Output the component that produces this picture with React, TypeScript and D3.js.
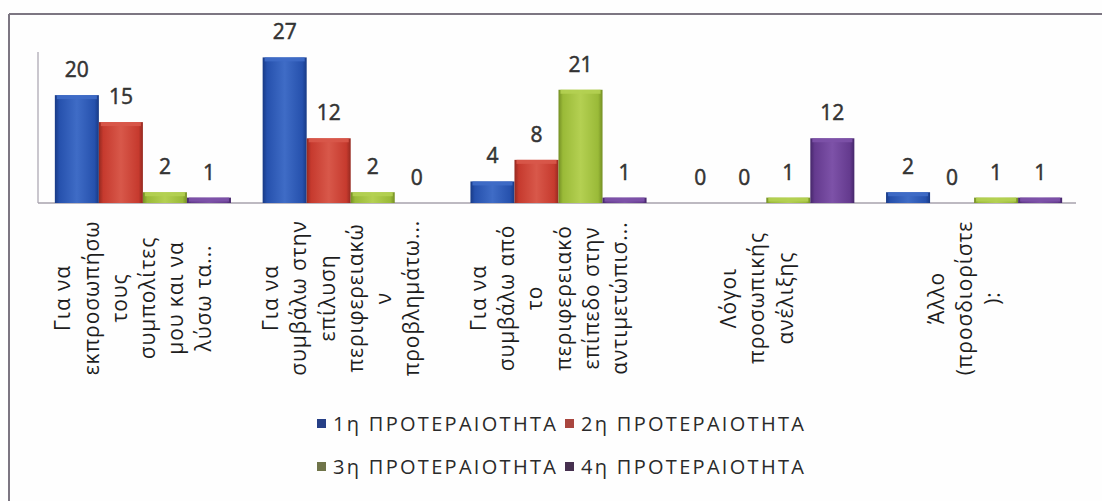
import React from 'react';
import * as d3 from 'd3';

const categories = [
  ['Για να', 'εκπροσωπήσω', 'τους', 'συμπολίτες', 'μου και να', 'λύσω τα...'],
  ['Για να', 'συμβάλω στην', 'επίλυση', 'περιφερειακώ', 'ν', 'προβλημάτω...'],
  ['Για να', 'συμβάλω από', 'το', 'περιφερειακό', 'επίπεδο στην', 'αντιμετώπισ...'],
  ['Λόγοι', 'προσωπικής', 'ανέλιξης'],
  ['Άλλο', '(προσδιορίστε', '):'],
];
const seriesNames = ['1η ΠΡΟΤΕΡΑΙΟΤΗΤΑ', '2η ΠΡΟΤΕΡΑΙΟΤΗΤΑ', '3η ΠΡΟΤΕΡΑΙΟΤΗΤΑ', '4η ΠΡΟΤΕΡΑΙΟΤΗΤΑ'];
const priority1 = [20, 27, 4, 0, 2];
const priority2 = [15, 12, 8, 0, 0];
const priority3 = [2, 2, 21, 1, 1];
const priority4 = [1, 0, 1, 12, 1];
const series = [priority1, priority2, priority3, priority4];

const barColors = [
  { base: '#2651ad', dark: '#183a85', light: '#3f6cc6' },
  { base: '#c63a2e', dark: '#952920', light: '#d8584a' },
  { base: '#9aba38', dark: '#748f24', light: '#b4d052' },
  { base: '#643a8e', dark: '#45276a', light: '#7d52a8' },
];
const legendColors = ['#263f86', '#a9463f', '#6f7449', '#46304f'];

const font = "'Open Sans', 'Noto Sans', sans-serif";

const App = () => {
  const width = 1102;
  const height = 501;
  const plot = { left: 39, right: 1078, top: 52, bottom: 203 };

  const x0 = d3
    .scaleBand()
    .domain(categories.map((_, i) => String(i)))
    .range([plot.left, plot.right])
    .padding(0);
  const x1 = d3
    .scaleBand()
    .domain(seriesNames)
    .range([0, x0.bandwidth()])
    .paddingInner(0)
    .paddingOuter(0.36);
  const y = d3.scaleLinear().domain([0, 28]).range([plot.bottom, plot.top]);

  const lineGap = 28.2;
  const labelCenterY = 298;

  return (
    <svg width={width} height={height} style={{ position: 'absolute', left: 0, top: 0, background: '#fefefe' }}>
      <defs>
        {barColors.map((c, i) => (
          <linearGradient key={i} id={`g${i}`} x1="0" x2="1" y1="0" y2="0">
            <stop offset="0" stopColor={c.dark} />
            <stop offset="0.1" stopColor={c.base} />
            <stop offset="0.5" stopColor={c.light} />
            <stop offset="0.9" stopColor={c.base} />
            <stop offset="1" stopColor={c.dark} />
          </linearGradient>
        ))}
      </defs>

      {/* frame */}
      <line x1={9} x2={width} y1={14} y2={14} stroke="#7c7682" strokeWidth={2} />
      <line x1={9} x2={9} y1={14} y2={height} stroke="#7c7682" strokeWidth={2} />

      {/* axes */}
      <line x1={plot.left - 1} x2={plot.left - 1} y1={plot.top} y2={plot.bottom} stroke="#a7a2ad" strokeWidth={1.2} />
      <line x1={plot.left - 1} x2={plot.right - 2} y1={plot.bottom} y2={plot.bottom} stroke="#a7a2ad" strokeWidth={1.5} />

      {/* bars */}
      {categories.map((_, ci) =>
        series.map((vals, si) => {
          const v = vals[ci];
          const bx = x0(String(ci)) + x1(seriesNames[si]);
          const bw = x1.bandwidth();
          const by = y(v);
          const bh = y(0) - y(v);
          return (
            <g key={`${ci}-${si}`}>
              {v > 0 && (
                <>
                  <rect x={bx} y={by} width={bw} height={bh} fill={`url(#g${si})`} />
                  <rect x={bx + 2} y={by} width={bw - 4} height={Math.min(4, bh)} fill={barColors[si].light} opacity={0.9} />
                </>
              )}
              <text
                x={bx + bw / 2}
                y={by - 18}
                textAnchor="middle"
                fontFamily={font}
                fontSize={21}
                fill="#333"
                stroke="#333"
                strokeWidth={0.5}
              >
                {v}
              </text>
            </g>
          );
        })
      )}

      {/* category labels */}
      {categories.map((lines, ci) => {
        const cx = x0(String(ci)) + x0.bandwidth() / 2 - 9;
        return lines.map((ln, li) => {
          const lx = cx + (li - (lines.length - 1) / 2) * lineGap + 7;
          return (
            <text
              key={`${ci}-${li}`}
              transform={`translate(${lx},${labelCenterY}) rotate(-90)`}
              textAnchor="middle"
              fontFamily={font}
              fontSize={21}
              letterSpacing={0.9}
              fill="#1e1e1e"
            >
              {ln}
            </text>
          );
        });
      })}

      {/* legend */}
      {seriesNames.map((name, i) => {
        const col = i % 2;
        const row = Math.floor(i / 2);
        const lx = 317 + col * 248;
        const ly = 424 + row * 43;
        return (
          <g key={name}>
            <rect x={lx} y={ly - 5} width={9} height={9} fill={legendColors[i]} />
            <text x={lx + 16} y={ly + 7} fontFamily={font} fontSize={20} letterSpacing={2.3} fill="#2a2a2a">
              {name}
            </text>
          </g>
        );
      })}
    </svg>
  );
};

export default App;
